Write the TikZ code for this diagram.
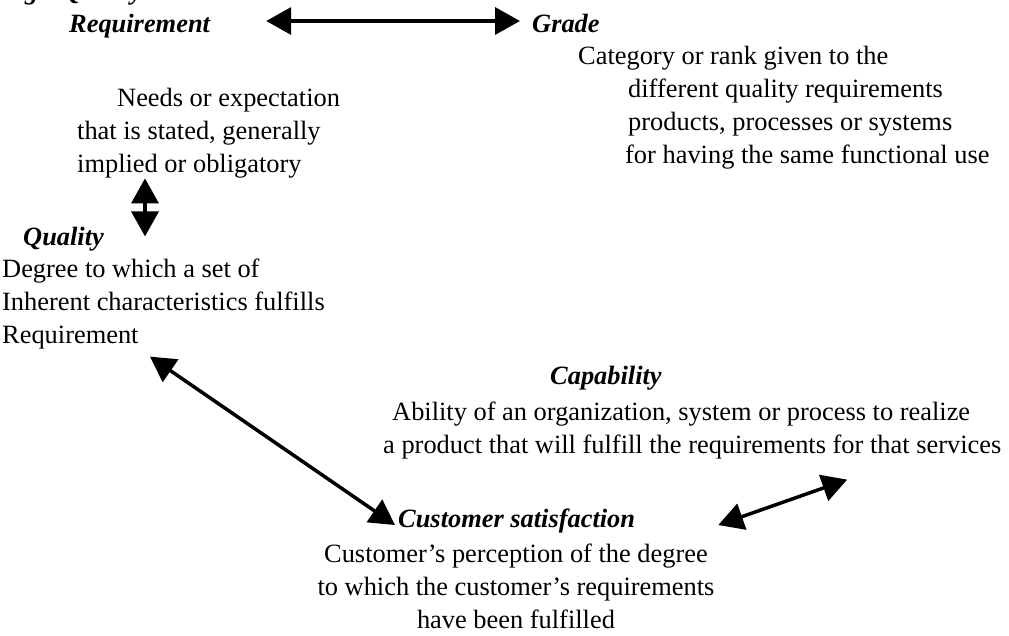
\documentclass[tikz,border=0pt]{standalone}
\usepackage{fontspec}
\setmainfont{Liberation Serif}
\usetikzlibrary{arrows.meta}

\begin{document}
\begin{tikzpicture}[x=1pt, y=-1pt,
    every node/.style={inner sep=0pt, font=\fontsize{26.4}{33}\selectfont},
    term/.style={anchor=base west, text height=18pt, text depth=6pt,
                 font=\fontsize{26.4}{33}\selectfont\bfseries\itshape},
    desc/.style={anchor=north west, align=left},
    conn/.style={{Triangle[length=25pt,width=27pt]}-{Triangle[length=25pt,width=27pt]},
                 line width=3.5pt}
]
    \useasboundingbox (0,0) rectangle (1009,635);

    % terms
    \node[term] (caption) at (0,-1) {Fig.\hspace{17pt}Quality};
    \node[term] (req) at (69,32) {Requirement};
    \node[term] (grade) at (532,32) {Grade};
    \node[term] (qual) at (23,245) {Quality};
    \node[term] (capab) at (550,384) {Capability};
    \node[term] (cust) at (398,527) {Customer satisfaction};

    % definitions
    \node[desc] (reqdesc) at (77,88) {\hspace*{40pt}Needs or expectation\\that is stated, generally\\implied or obligatory};
    \node[desc] (gradedesc) at (578,46) {Category or rank given to the\\\hspace*{50pt}different quality requirements\\\hspace*{50pt}products, processes or systems\\\hspace*{47pt}for having the same functional use};
    \node[desc] (qualdesc) at (2,259) {Degree to which a set of\\Inherent characteristics fulfills\\Requirement};
    \node[desc] (capdesc) at (383,402) {\hspace*{9pt}Ability of an organization, system or process to realize\\a product that will fulfill the requirements for that services};
    \node[anchor=north, align=center] (custdesc) at (516,544) {Customer’s perception of the degree\\to which the customer’s requirements\\have been fulfilled};

    \draw[conn] ([xshift=56pt,yshift=5pt]req.east) -- ([xshift=-12pt,yshift=5pt]grade.west);
    \draw[conn] ([xshift=68pt]reqdesc.south west) -- ++(0,58);
    \draw[conn] ([xshift=148pt,yshift=-7pt]qualdesc.south west) -- ([xshift=-3pt,yshift=-4pt]cust.west);
    \draw[conn] ([xshift=83pt,yshift=-4pt]cust.east) -- ([xshift=155pt,yshift=-20pt]capdesc.south);
\end{tikzpicture}
\end{document}
